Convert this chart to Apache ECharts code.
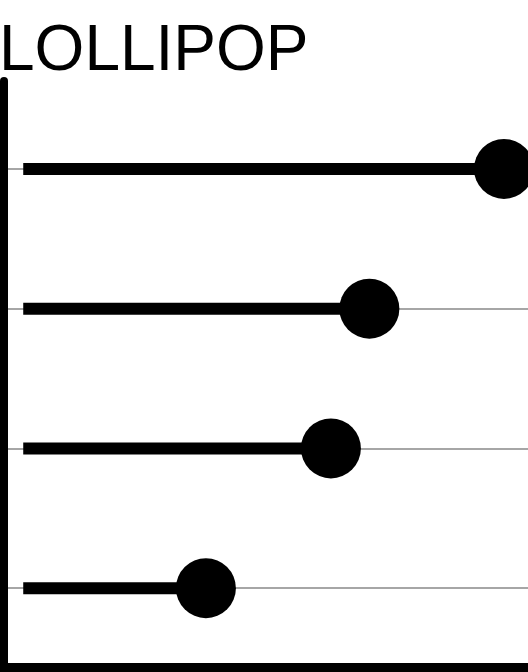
<!DOCTYPE html>
<html>
<head>
<meta charset="utf-8">
<style>html,body{margin:0;padding:0;background:#fff;}#c{width:528px;height:672px;}</style>
<script src="https://cdn.jsdelivr.net/npm/echarts@6/dist/echarts.min.js"></script>
</head>
<body>
<div id="c"></div>
<script>
const categories = ['A', 'B', 'C', 'D'];
const values = [100, 72, 64, 38];
const titleText = 'LOLLIPOP';

const chart = echarts.init(document.getElementById('c'), null, {renderer: 'canvas'});
chart.setOption({
  animation: false,
  backgroundColor: '#ffffff',
  title: {
    text: titleText,
    left: -1,
    top: 20,
    padding: 0,
    textStyle: {fontFamily: 'Liberation Sans', fontSize: 64, fontWeight: 'normal', color: '#000'}
  },
  grid: [
    {left: 4, right: 0, top: 99, bottom: 14, containLabel: false},
    {left: 4, right: 0, top: 81, bottom: 4.5, containLabel: false}
  ],
  xAxis: [
    {gridIndex: 0, type: 'value', min: -4, max: 105, show: false},
    {gridIndex: 1, type: 'value', min: 0, max: 1,
     axisLine: {show: true, onZero: false, lineStyle: {color: '#000', width: 9, cap: 'square'}},
     axisTick: {show: false}, axisLabel: {show: false}, splitLine: {show: false}}
  ],
  yAxis: [
    {gridIndex: 0, type: 'category', data: categories, inverse: true,
     axisLine: {show: false}, axisTick: {show: false}, axisLabel: {show: false},
     splitLine: {show: true, alignWithLabel: true, lineStyle: {color: '#a6a6a6', width: 2}}},
    {gridIndex: 1, type: 'value', min: 0, max: 1,
     axisLine: {show: true, onZero: false, lineStyle: {color: '#000', width: 8, cap: 'round'}},
     axisTick: {show: false}, axisLabel: {show: false}, splitLine: {show: false}}
  ],
  series: [
    {type: 'bar', xAxisIndex: 0, yAxisIndex: 0, data: values, barWidth: 12,
     itemStyle: {color: '#000'}, silent: true},
    {type: 'scatter', xAxisIndex: 0, yAxisIndex: 0, data: values, symbol: 'circle', symbolSize: 60,
     itemStyle: {color: '#000', opacity: 1}, clip: false, silent: true}
  ]
});
</script>
</body>
</html>
